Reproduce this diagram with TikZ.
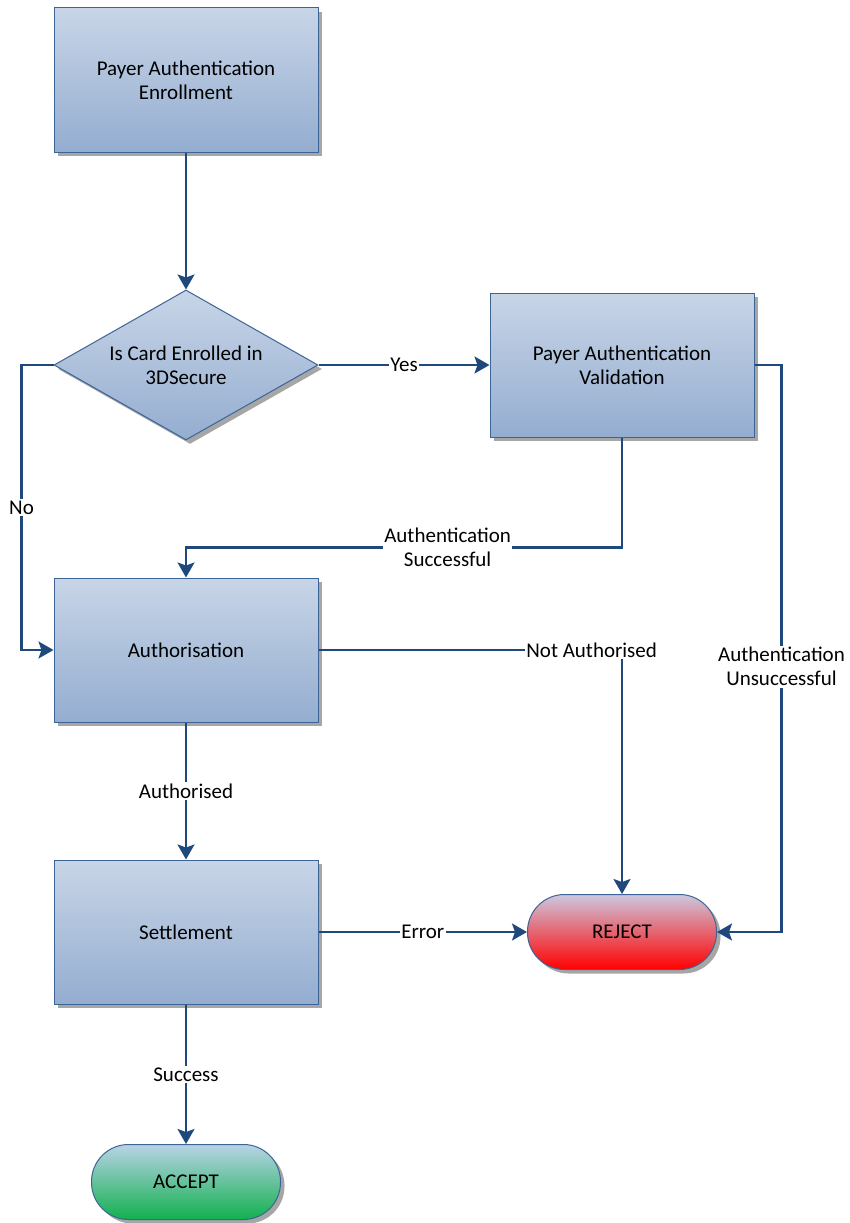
\documentclass[tikz,border=0pt]{standalone}
\usepackage{fontspec}
\setmainfont{Carlito}
\usepackage{tikz}
\usetikzlibrary{shapes.geometric,shadows,arrows.meta}
\definecolor{flowblue}{HTML}{1F497D}
\definecolor{boxedge}{HTML}{3C6496}
\definecolor{boxtop}{HTML}{C8D5E7}
\definecolor{boxbot}{HTML}{94ADD0}
\definecolor{rejtop}{HTML}{CCC8DF}
\definecolor{rejbot}{HTML}{FF0000}
\definecolor{acctop}{HTML}{B8D3E6}
\definecolor{accbot}{HTML}{12B04F}
\newcommand*\boxw{264pt}
\newcommand*\boxh{144pt}
\tikzset{
    every node/.style = {font=\fontsize{21}{24}\selectfont},
    procbox/.style    = {draw=boxedge, line width=1pt, shading=axis,
                        top color=boxtop, bottom color=boxbot,
                        minimum width=\boxw, minimum height=\boxh,
                        align=center, inner sep=0pt,
                        drop shadow={shadow xshift=4pt, shadow yshift=-4pt,
                                     fill=gray!70, opacity=1}},
    decision/.style   = {procbox, diamond, aspect=1.76,
                        minimum width=264pt, minimum height=150pt},
    terminal/.style   = {procbox, rounded corners=37pt,
                        minimum width=189pt, minimum height=75pt},
    rejectend/.style  = {terminal, top color=rejtop, bottom color=rejbot},
    acceptend/.style  = {terminal, top color=acctop, bottom color=accbot},
    flow/.style       = {draw=flowblue, line width=2.2pt,
                        -{Stealth[length=15pt,width=17pt,inset=3pt]}},
    lbl/.style        = {fill=white, inner sep=1.5pt, align=center},
}
\begin{document}
\begin{tikzpicture}[x=1pt,y=-1pt]
    \useasboundingbox (0,0) rectangle (850,1223);

    % Boxes of the flow
    \node[procbox]   (enrol)  at (186,80)  {Payer Authentication\\Enrollment};
    \node[decision]  (enrolq) at (186,365) {Is Card Enrolled in\\3DSecure};
    \node[procbox]   (valid)  at (622,365) {Payer Authentication\\Validation};
    \node[procbox]   (auth)   at (186,650) {Authorisation};
    \node[procbox]   (settle) at (186,932) {Settlement};
    \node[rejectend] (reject) at (622,932) {REJECT};
    \node[acceptend] (accept) at (186,1182) {ACCEPT};

    % Connectors
    \draw[flow] (enrol.south) -- (enrolq.north);
    \draw[flow] (enrolq.east) -- node[lbl] {Yes} (valid.west);
    \draw[flow] (enrolq.west) -- ++(-32,0) |- node[lbl,pos=0.25] {No} (auth.west);
    \draw[flow] (valid.south) -- ++(0,110)
        -| node[lbl,pos=0.2] {Authentication\\Successful} (auth.north);
    \draw[flow] (auth.east) -| node[lbl,pos=0.45] {Not Authorised} (reject.north);
    \draw[flow] (valid.east) -- ++(27,0)
        |- node[lbl,pos=0.266] {Authentication\\Unsuccessful} (reject.east);
    \draw[flow] (auth.south) -- node[lbl] {Authorised} (settle.north);
    \draw[flow] (settle.east) -- node[lbl] {Error} (reject.west);
    \draw[flow] (settle.south) -- node[lbl] {Success} (accept.north);
\end{tikzpicture}
\end{document}
